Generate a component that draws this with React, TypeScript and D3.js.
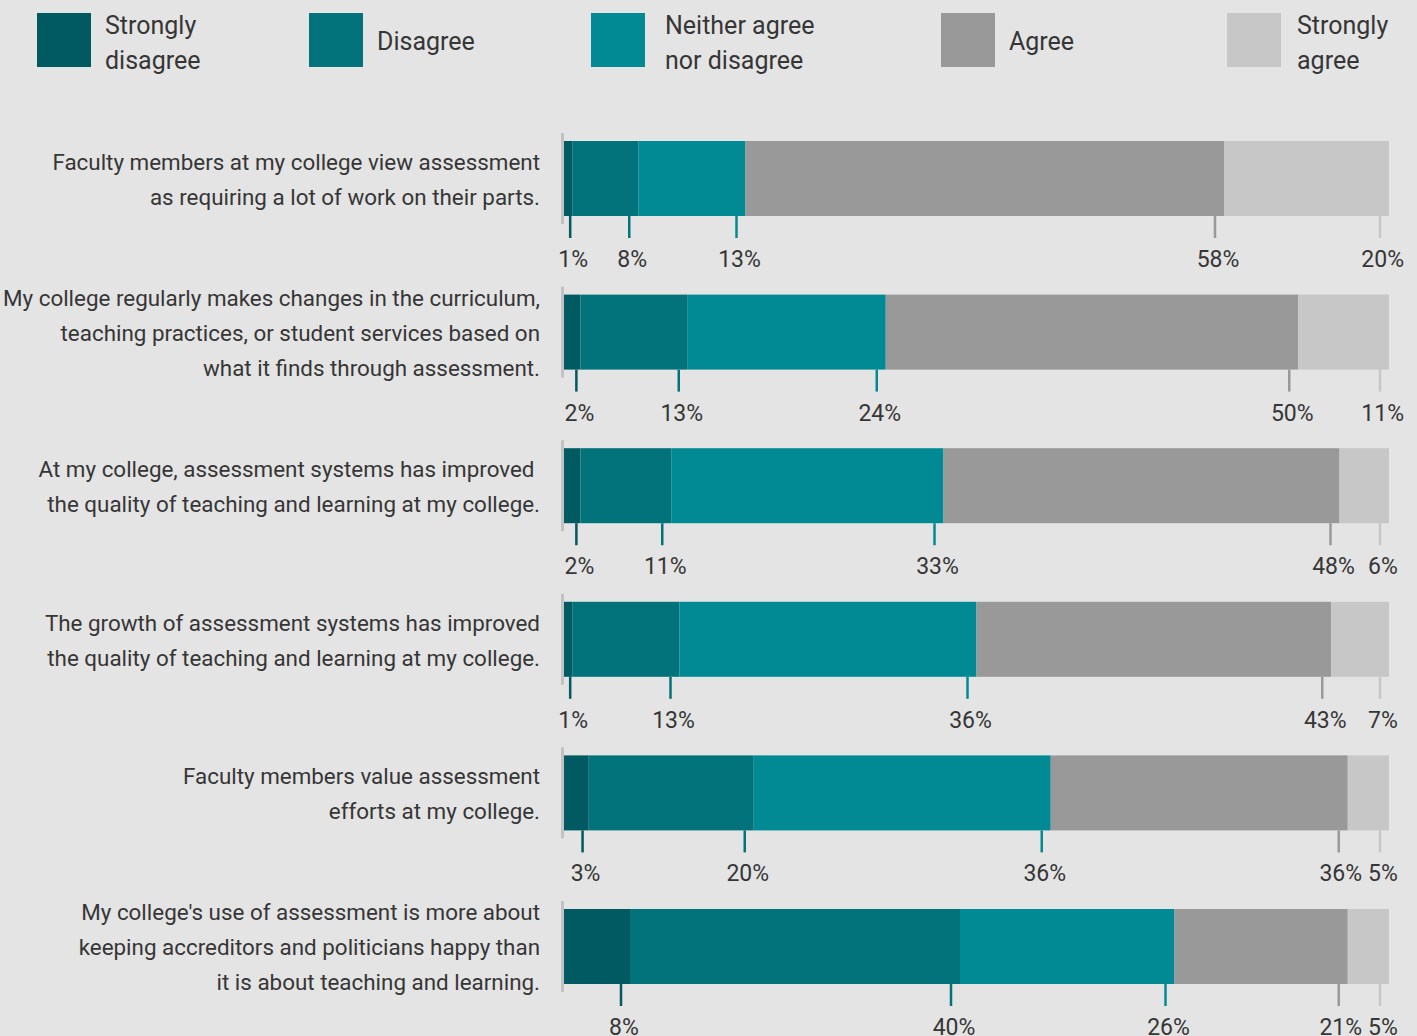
import { useEffect, useRef } from "react";
import * as d3 from "d3";

// Response categories (legend order = stacking order)
const categories = ["Strongly disagree", "Disagree", "Neither agree nor disagree", "Agree", "Strongly agree"];
const legendLines = [["Strongly", "disagree"], ["Disagree"], ["Neither agree", "nor disagree"], ["Agree"], ["Strongly", "agree"]];
const colors = ["#015a62", "#02737a", "#028a94", "#999999", "#c7c7c7"];

// Survey statements, already broken into lines
const statements = [
  ["Faculty members at my college view assessment", "as requiring a lot of work on their parts."],
  ["My college regularly makes changes in the curriculum,", "teaching practices, or student services based on", "what it finds through assessment."],
  ["At my college, assessment systems has improved ", "the quality of teaching and learning at my college."],
  ["The growth of assessment systems has improved", "the quality of teaching and learning at my college."],
  ["Faculty members value assessment", "efforts at my college."],
  ["My college's use of assessment is more about", "keeping accreditors and politicians happy than", "it is about teaching and learning."],
];

// Percent of respondents per statement
const stronglyDisagree = [1, 2, 2, 1, 3, 8];
const disagree = [8, 13, 11, 13, 20, 40];
const neither = [13, 24, 33, 36, 36, 26];
const agree = [58, 50, 48, 43, 36, 21];
const stronglyAgree = [20, 11, 6, 7, 5, 5];

const W = 1417;
const H = 1036;
const FONT = "Roboto, 'Noto Sans', sans-serif";
const TEXT = "#363636";

export default function App() {
  const svgRef = useRef<SVGSVGElement>(null);

  useEffect(() => {
    document.body.style.margin = "0";
    document.body.style.background = "#e4e4e4";
    if (!svgRef.current) return;
    const svg = d3.select(svgRef.current);
    svg.selectAll("*").remove();

    const series = [stronglyDisagree, disagree, neither, agree, stronglyAgree];
    const rows = statements.map((_, i) => series.map(s => s[i]));

    const x = d3.scaleLinear().domain([0, 100]).range([564, 1389]);
    const y = d3
      .scaleBand<number>()
      .domain(d3.range(statements.length))
      .range([141, 984])
      .paddingInner(0.5117);
    const bh = y.bandwidth();

    // Legend
    const legendX = [37, 309, 591, 941, 1227];
    const legendTextDx = [68, 68, 74, 68, 70];
    const legend = svg.append("g");
    categories.forEach((c, i) => {
      const g = legend.append("g").attr("transform", `translate(${legendX[i]},13)`);
      g.append("rect").attr("width", 54).attr("height", 54).attr("fill", colors[i]);
      const lines = legendLines[i];
      lines.forEach((l, j) => {
        g.append("text")
          .attr("x", legendTextDx[i])
          .attr("y", (lines.length > 1 ? 29.5 : 28) + (j - (lines.length - 1) / 2) * 35)
          .attr("dy", "0.35em")
          .attr("font-family", FONT)
          .attr("font-size", 25)
          .attr("fill", TEXT)
          .text(l);
      });
    });

    rows.forEach((vals, i) => {
      const top = y(i) as number;
      const g = svg.append("g");

      // statement label, right aligned and centred on the bar
      const lines = statements[i];
      lines.forEach((l, j) => {
        g.append("text")
          .attr("x", 540)
          .attr("y", top + bh / 2 + 1 + (j - (lines.length - 1) / 2) * 35)
          .attr("dy", "0.35em")
          .attr("text-anchor", "end")
          .attr("font-family", FONT)
          .attr("font-size", 22.4)
          .attr("fill", TEXT)
          .style("white-space", "pre")
          .text(l);
      });

      // axis stub
      g.append("rect")
        .attr("x", x(0) - 3)
        .attr("y", top - 8)
        .attr("width", 3)
        .attr("height", bh + 16)
        .attr("fill", "#c2c2c2");

      const cum = d3.cumsum(vals);
      const segs = vals.map((v, k) => ({ v, k, x0: x(cum[k] - v), x1: x(cum[k]) }));

      g.selectAll(".seg")
        .data(segs)
        .enter()
        .append("rect")
        .attr("x", d => d.x0)
        .attr("y", top)
        .attr("width", d => d.x1 - d.x0)
        .attr("height", bh)
        .attr("fill", d => colors[d.k]);

      // ticks near right end of each segment
      const tickX = segs.map(d => d.x1 - Math.min(9, (d.x1 - d.x0) / 4));
      g.selectAll(".tick")
        .data(segs)
        .enter()
        .append("rect")
        .attr("x", (_, k) => tickX[k] - 1.25)
        .attr("y", top + bh)
        .attr("width", 2.5)
        .attr("height", 22)
        .attr("fill", d => colors[d.k]);

      // percent labels with simple overlap avoidance from the right
      const labels = segs.map((d, k) => {
        const t = g.append("text")
          .attr("y", top + bh + 51)
          .attr("text-anchor", "middle")
          .attr("font-family", FONT)
          .attr("font-size", 23)
          .attr("fill", TEXT)
          .text(`${d.v}%`);
        const w = (t.node() as SVGTextElement).getComputedTextLength();
        return { t, w, cx: tickX[k] + 3 };
      });
      let limit = 1404;
      for (let k = labels.length - 1; k >= 0; k--) {
        const L = labels[k];
        if (L.cx + L.w / 2 > limit) L.cx = limit - L.w / 2;
        limit = L.cx - L.w / 2 - 6;
      }
      labels.forEach(L => L.t.attr("x", L.cx));
    });
  }, []);

  return (
    <svg
      ref={svgRef}
      width={W}
      height={H}
      viewBox={`0 0 ${W} ${H}`}
      style={{ display: "block", background: "#e4e4e4" }}
    />
  );
}
